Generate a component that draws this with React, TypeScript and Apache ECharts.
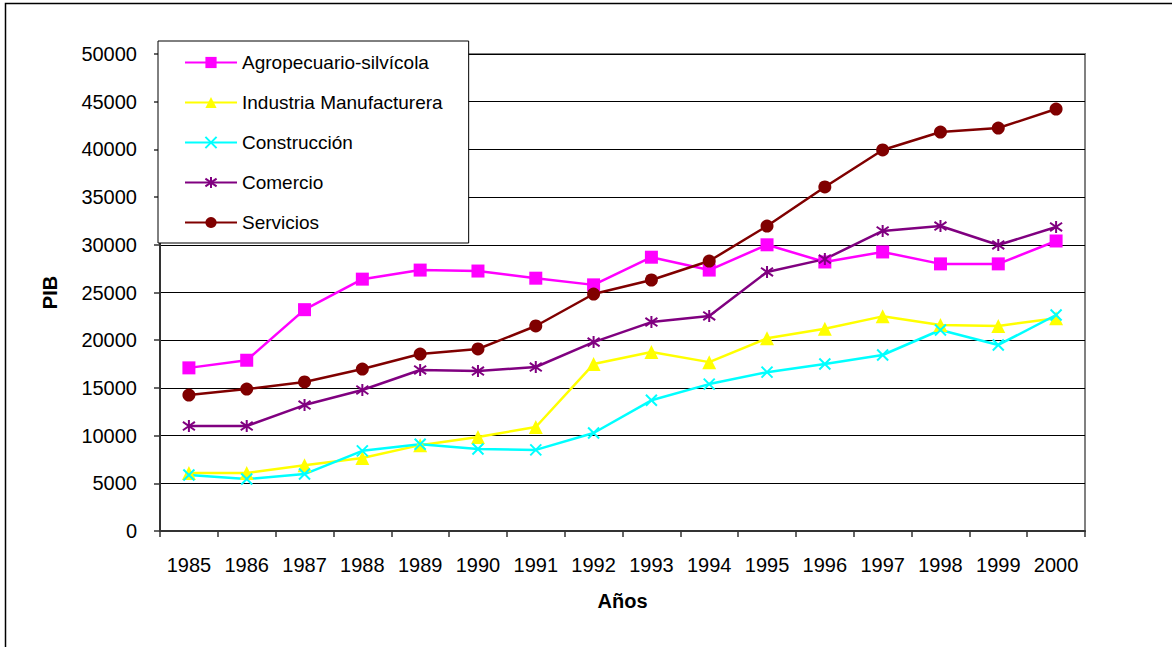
import React, { useEffect, useRef } from "react";
import * as echarts from "echarts";

const years = ["1985","1986","1987","1988","1989","1990","1991","1992","1993","1994","1995","1996","1997","1998","1999","2000"];
const agro = [17100,17900,23200,26400,27350,27250,26500,25800,28700,27350,30000,28200,29250,28000,28000,30400];
const industria = [6080,6080,6900,7650,9000,9850,10900,17500,18760,17700,20200,21200,22500,21600,21500,22300];
const construccion = [5870,5450,5970,8400,9100,8600,8500,10270,13700,15400,16650,17500,18450,21070,19500,22640];
const comercio = [11000,11000,13200,14780,16880,16770,17190,19800,21900,22540,27150,28500,31450,31970,29980,31870];
const servicios = [14250,14880,15620,16980,18550,19080,21490,24840,26310,28300,31970,36060,39940,41820,42240,44230];

const seriesNames = ["Agropecuario-silvícola","Industria Manufacturera","Construcción","Comercio","Servicios"];

export default function App() {
  const ref = useRef<HTMLDivElement>(null);
  useEffect(() => {
    document.body.style.margin = "0";
    const chart = echarts.init(ref.current!, null, { renderer: "svg" });
    const font = "'Liberation Sans', Arial, sans-serif";
    const mk = (name: string, data: number[], color: string, symbol: string, size: number, stroke: boolean) => ({
      name,
      type: "line",
      data,
      symbol,
      symbolSize: size,
      lineStyle: { color, width: 2.5 },
      itemStyle: stroke
        ? { color: "rgba(0,0,0,0)", borderColor: color, borderWidth: 2 }
        : { color, borderColor: color, borderWidth: 0 },
      emphasis: { disabled: true },
    });
    chart.setOption({
      animation: false,
      textStyle: { fontFamily: font },
      graphic: [
        { type: "rect", shape: { x: 5.5, y: 3.5, width: 1300, height: 800 }, style: { fill: "none", stroke: "#000", lineWidth: 1.5 }, z: -10, silent: true },
      ],
      grid: { left: 160, right: 87, top: 54, bottom: 116, show: true, borderColor: "#808080", borderWidth: 2, backgroundColor: "#fff" },
      legend: {
        orient: "vertical",
        left: 158,
        top: 41,
        data: seriesNames,
        itemWidth: 52,
        itemHeight: 14,
        itemGap: 21,
        padding: [12, 26, 11, 26],
        backgroundColor: "#fff",
        borderColor: "#000",
        borderWidth: 1,
        borderRadius: 0,
        textStyle: { fontSize: 19, color: "#000", fontFamily: font },
      },
      xAxis: {
        type: "category",
        data: years,
        boundaryGap: true,
        name: "Años",
        nameLocation: "middle",
        nameGap: 60,
        nameTextStyle: { fontSize: 20, fontWeight: "bold", color: "#000", fontFamily: font },
        axisLine: { lineStyle: { color: "#333", width: 2 } },
        axisTick: { show: true, length: 6, interval: 0, lineStyle: { color: "#333", width: 1.5 } },
        axisLabel: { fontSize: 20, color: "#000", margin: 24, interval: 0, fontFamily: font },
        splitLine: { show: false },
      },
      yAxis: {
        type: "value",
        min: 0,
        max: 50000,
        interval: 5000,
        name: "PIB",
        nameLocation: "middle",
        nameGap: 100,
        nameRotate: 90,
        nameTextStyle: { fontSize: 20, fontWeight: "bold", color: "#000", fontFamily: font },
        axisLine: { show: true, lineStyle: { color: "#333", width: 2 } },
        axisTick: { show: true, length: 6, lineStyle: { color: "#333", width: 1.5 } },
        axisLabel: { fontSize: 20, color: "#000", margin: 23, fontFamily: font, formatter: (v: number) => String(v) },
        splitLine: { show: true, lineStyle: { color: "#000", width: 1 } },
      },
      series: [
        mk(seriesNames[0], agro, "#FF00FF", "rect", 13, false),
        mk(seriesNames[1], industria, "#FFFF00", "triangle", 14, false),
        mk(seriesNames[2], construccion, "#00FFFF", "path://M0,0L10,10M10,0L0,10", 11, true),
        mk(seriesNames[3], comercio, "#800080", "path://M5,0L5,10M0,1.5L10,8.5M10,1.5L0,8.5", 12, true),
        mk(seriesNames[4], servicios, "#800000", "circle", 13, false),
      ],
    });
    return () => chart.dispose();
  }, []);
  return <div ref={ref} style={{ width: 1172, height: 647 }} />;
}
